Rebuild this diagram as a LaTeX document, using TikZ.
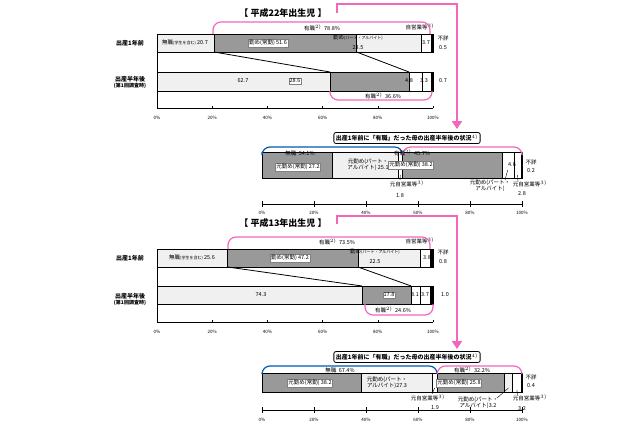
\documentclass[tikz,border=0pt]{standalone}
\usepackage{fontspec}
\setmainfont{Noto Sans CJK JP}
\usetikzlibrary{arrows.meta}
\tikzset{
 lt/.style={fill=black!6,draw=black,line width=0.6pt},
 dk/.style={fill=black!40,draw=black,line width=0.6pt},
 bk/.style={fill=black,draw=black,line width=0.6pt},
 wt/.style={fill=white,draw=black,line width=0.6pt},
 lbl/.style={font=\fontsize{5.5}{6}\selectfont,inner sep=1pt},
 wlbl/.style={lbl,fill=white,draw=black!50,line width=0.3pt},
 ttl/.style={font=\bfseries\fontsize{9}{10}\selectfont},
 pk/.style={draw=magenta!60,line width=1.2pt,rounded corners=8pt},
 bl/.style={draw=blue!50!cyan!70!black,line width=1.2pt,rounded corners=8pt},
 ax/.style={font=\fontsize{4.5}{5}\selectfont},
 arr/.style={draw=magenta!60,line width=2pt,-{Triangle[length=8pt,width=10pt]}}
}
% \segm{x0}{x1}{ytop}{ybot}{style}
\newcommand\segm[5]{\path[#5] (#1,#3) rectangle (#2,#4);}
\begin{document}
\begin{tikzpicture}[x=1pt,y=-1pt]
\useasboundingbox (0,0) rectangle (640,426);
%================ chart 1 ================
\def\X#1{157+2.76*#1}
\node[ttl] (t1) at (283,13) {【 平成22年出生児 】};
\node[lbl,font=\bfseries\fontsize{6}{7}\selectfont] (r1) at (130,43) {出産1年前};
\node[lbl,font=\bfseries\fontsize{6}{7}\selectfont,align=center] (r2) at (130,82) {出産半年後\\[-1pt]{\fontsize{5}{6}\selectfont(第1回調査時)}};
\draw[line width=0.6pt] (157,34) -- (157,108) -- (433,108);
\foreach \p in {0,20,40,60,80,100}{\draw (\X{\p},108) -- (\X{\p},106); \node[ax] at (\X{\p},118) {\p\%};}
\segm{\X{0}}{\X{20.7}}{34}{52}{lt}
\segm{\X{20.7}}{\X{72.3}}{34}{52}{dk}
\segm{\X{72.3}}{\X{95.8}}{34}{52}{lt}
\segm{\X{95.8}}{\X{99.5}}{34}{52}{wt}
\segm{\X{99.5}}{\X{100}}{34}{52}{bk}
\segm{\X{0}}{\X{62.7}}{72}{91}{lt}
\segm{\X{62.7}}{\X{91.3}}{72}{91}{dk}
\segm{\X{91.3}}{\X{96.1}}{72}{91}{wt}
\segm{\X{96.1}}{\X{99.4}}{72}{91}{wt}
\segm{\X{99.4}}{\X{100}}{72}{91}{bk}
\draw[line width=0.8pt] (\X{20.7},52) -- (\X{62.7},72) (\X{72.3},52) -- (\X{91.3},72);
\node[lbl] at (185,43) {無職{\fontsize{4}{5}\selectfont(学生を含む)} 20.7};
\node[wlbl] at (268,43) {勤め(常勤) 51.6};
\node[lbl] at (358,38) {勤め{\fontsize{4}{5}\selectfont(パート・アルバイト)}};
\node[lbl] at (358,48) {23.5};
\node[lbl] at (426,43) {3.7};
\node[lbl] at (443,38) {不詳};
\node[lbl] at (443,48) {0.5};
\node[lbl] at (420,27) {自営業等$^{3)}$};
\node[lbl] at (322,28) {有職$^{2)}$\ \ 78.8\%};
\node[lbl] at (243,81) {62.7};
\node[wlbl] at (295,81) {28.6};
\node[lbl] at (409,81) {4.8};
\node[lbl] at (424,81) {3.3};
\node[lbl] at (443,81) {0.7};
\node[lbl] at (383,96) {有職$^{2)}$\ \ 36.6\%};
\draw[pk] (213,34) -- (213,22) -- (430,22) -- (430,34);
\draw[pk] (330,91) -- (330,100) -- (432,100) -- (432,91);
\draw[arr,rounded corners=0pt] (337,13) -- (337,4) -- (457,4) -- (457,129);
%================ chart 2 ================
\def\Y#1{262+2.6*#1}
\node[draw,line width=0.8pt,rounded corners=2pt,font=\bfseries\fontsize{6}{7}\selectfont,inner sep=2pt] (b1) at (407,138) {出産1年前に「有職」だった母の出産半年後の状況$^{4)}$};
\segm{\Y{0}}{\Y{27.2}}{152}{178}{dk}
\segm{\Y{27.2}}{\Y{52.3}}{152}{178}{lt}
\segm{\Y{52.3}}{\Y{54.1}}{152}{178}{wt}
\segm{\Y{54.1}}{\Y{92.3}}{152}{178}{dk}
\segm{\Y{92.3}}{\Y{96.9}}{152}{178}{wt}
\segm{\Y{96.9}}{\Y{99.8}}{152}{178}{wt}
\segm{\Y{99.8}}{\Y{100}}{152}{178}{bk}
\draw[bl] (\Y{0},152) -- (\Y{0},147) -- (\Y{54.1},147) -- (\Y{54.1},152);
\draw[pk] (\Y{54.1},152) -- (\Y{54.1},147) -- (\Y{100},147) -- (\Y{100},152);
\node[lbl] at (300,153) {無職\ \ 54.1\%};
\node[lbl] at (412,153) {有職$^{2)}$\ \ 45.7\%};
\node[wlbl] at (298,167) {元勤め(常勤) 27.2};
\node[lbl,align=center] at (368,165) {元勤め(パート・\\アルバイト) 25.1};
\node[wlbl] at (411,165) {元勤め(常勤) 38.2};
\node[lbl] at (512,165) {4.6};
\node[lbl] at (531,162) {不詳};
\node[lbl] at (531,171) {0.2};
\node[lbl] at (407,184) {元自営業等$^{3)}$};
\node[lbl] at (400,196) {1.8};
\node[lbl,align=center] at (490,186) {元勤め(パート・\\アルバイト)};
\node[lbl] at (530,184) {元自営業等$^{3)}$};
\node[lbl] at (522,194) {2.8};
\draw (400,180) -- (\Y{53.2},175) (505,180) -- (\Y{94.5},170) (518,182) -- (\Y{98.3},175);
\draw (262,204) -- (522,204);
\foreach \p in {0,20,40,60,80,100}{\draw (\Y{\p},201) -- (\Y{\p},207); \node[ax] at (\Y{\p},213) {\p\%};}
%================ chart 3 ================
\node[ttl] (t2) at (283,223) {【 平成13年出生児 】};
\node[lbl,font=\bfseries\fontsize{6}{7}\selectfont] at (130,258) {出産1年前};
\node[lbl,font=\bfseries\fontsize{6}{7}\selectfont,align=center] at (130,299) {出産半年後\\[-1pt]{\fontsize{5}{6}\selectfont(第1回調査時)}};
\draw[line width=0.6pt] (157,249) -- (157,322) -- (433,322);
\foreach \p in {0,20,40,60,80,100}{\draw (\X{\p},322) -- (\X{\p},320); \node[ax] at (\X{\p},332) {\p\%};}
\segm{\X{0}}{\X{25.6}}{249}{267}{lt}
\segm{\X{25.6}}{\X{72.8}}{249}{267}{dk}
\segm{\X{72.8}}{\X{95.3}}{249}{267}{lt}
\segm{\X{95.3}}{\X{99.1}}{249}{267}{wt}
\segm{\X{99.1}}{\X{100}}{249}{267}{bk}
\segm{\X{0}}{\X{74.3}}{286}{304}{lt}
\segm{\X{74.3}}{\X{92.1}}{286}{304}{dk}
\segm{\X{92.1}}{\X{95.3}}{286}{304}{wt}
\segm{\X{95.3}}{\X{99.0}}{286}{304}{wt}
\segm{\X{99.0}}{\X{100}}{286}{304}{bk}
\draw[line width=0.8pt] (\X{25.6},267) -- (\X{74.3},286) (\X{72.8},267) -- (\X{92.1},286);
\node[lbl] at (192,258) {無職{\fontsize{4}{5}\selectfont(学生を含む)} 25.6};
\node[wlbl] at (290,258) {勤め(常勤) 47.2};
\node[lbl] at (375,252) {勤め{\fontsize{4}{5}\selectfont(パート・アルバイト)}};
\node[lbl] at (375,262) {22.5};
\node[lbl] at (427,258) {3.8};
\node[lbl] at (443,252) {不詳};
\node[lbl] at (443,262) {0.8};
\node[lbl] at (420,241) {自営業等$^{3)}$};
\node[lbl] at (337,242) {有職$^{2)}$\ \ 73.5\%};
\node[lbl] at (261,295) {74.3};
\node[wlbl] at (389,295) {17.8};
\node[lbl] at (415,295) {3.1};
\node[lbl] at (425,295) {3.7};
\node[lbl] at (445,295) {1.0};
\node[lbl] at (393,310) {有職$^{2)}$\ \ 24.6\%};
\draw[pk] (228,249) -- (228,237) -- (430,237) -- (430,249);
\draw[pk] (365,304) -- (365,315) -- (433,315) -- (433,304);
\draw[arr,rounded corners=0pt] (337,224) -- (337,216) -- (457,216) -- (457,349);
%================ chart 4 ================
\node[draw,line width=0.8pt,rounded corners=2pt,font=\bfseries\fontsize{6}{7}\selectfont,inner sep=2pt] (b2) at (407,357) {出産1年前に「有職」だった母の出産半年後の状況$^{4)}$};
\segm{\Y{0}}{\Y{38.2}}{373}{392}{dk}
\segm{\Y{38.2}}{\Y{65.5}}{373}{392}{lt}
\segm{\Y{65.5}}{\Y{67.4}}{373}{392}{wt}
\segm{\Y{67.4}}{\Y{93.2}}{373}{392}{dk}
\segm{\Y{93.2}}{\Y{96.4}}{373}{392}{lt}
\segm{\Y{96.4}}{\Y{99.6}}{373}{392}{wt}
\segm{\Y{99.6}}{\Y{100}}{373}{392}{bk}
\draw[bl] (\Y{0},373) -- (\Y{0},366) -- (\Y{67.4},366) -- (\Y{67.4},373);
\draw[pk] (\Y{67.4},373) -- (\Y{67.4},366) -- (\Y{100},366) -- (\Y{100},373);
\node[lbl] at (340,370) {無職\ \ 67.4\%};
\node[lbl] at (472,370) {有職$^{2)}$\ \ 32.2\%};
\node[wlbl] at (310,383) {元勤め(常勤) 38.2};
\node[lbl,align=center] at (387,383) {元勤め(パート・\\アルバイト)27.3};
\node[wlbl] at (459,383) {元勤め(常勤) 25.8};
\node[lbl] at (531,377) {不詳};
\node[lbl] at (531,386) {0.4};
\node[lbl] at (428,398) {元自営業等$^{3)}$};
\node[lbl] at (435,408) {1.9};
\node[lbl,align=center] at (478,403) {元勤め(パート・\\アルバイト)3.2};
\node[lbl] at (530,398) {元自営業等$^{3)}$};
\node[lbl] at (522,409) {3.2};
\draw (432,394) -- (\Y{66.4},388) (497,398) -- (\Y{94.8},388) (518,396) -- (\Y{98},390);
\draw (262,410) -- (522,410);
\foreach \p in {0,20,40,60,80,100}{\draw (\Y{\p},407) -- (\Y{\p},413); \node[ax] at (\Y{\p},420) {\p\%};}
\end{tikzpicture}
\end{document}
